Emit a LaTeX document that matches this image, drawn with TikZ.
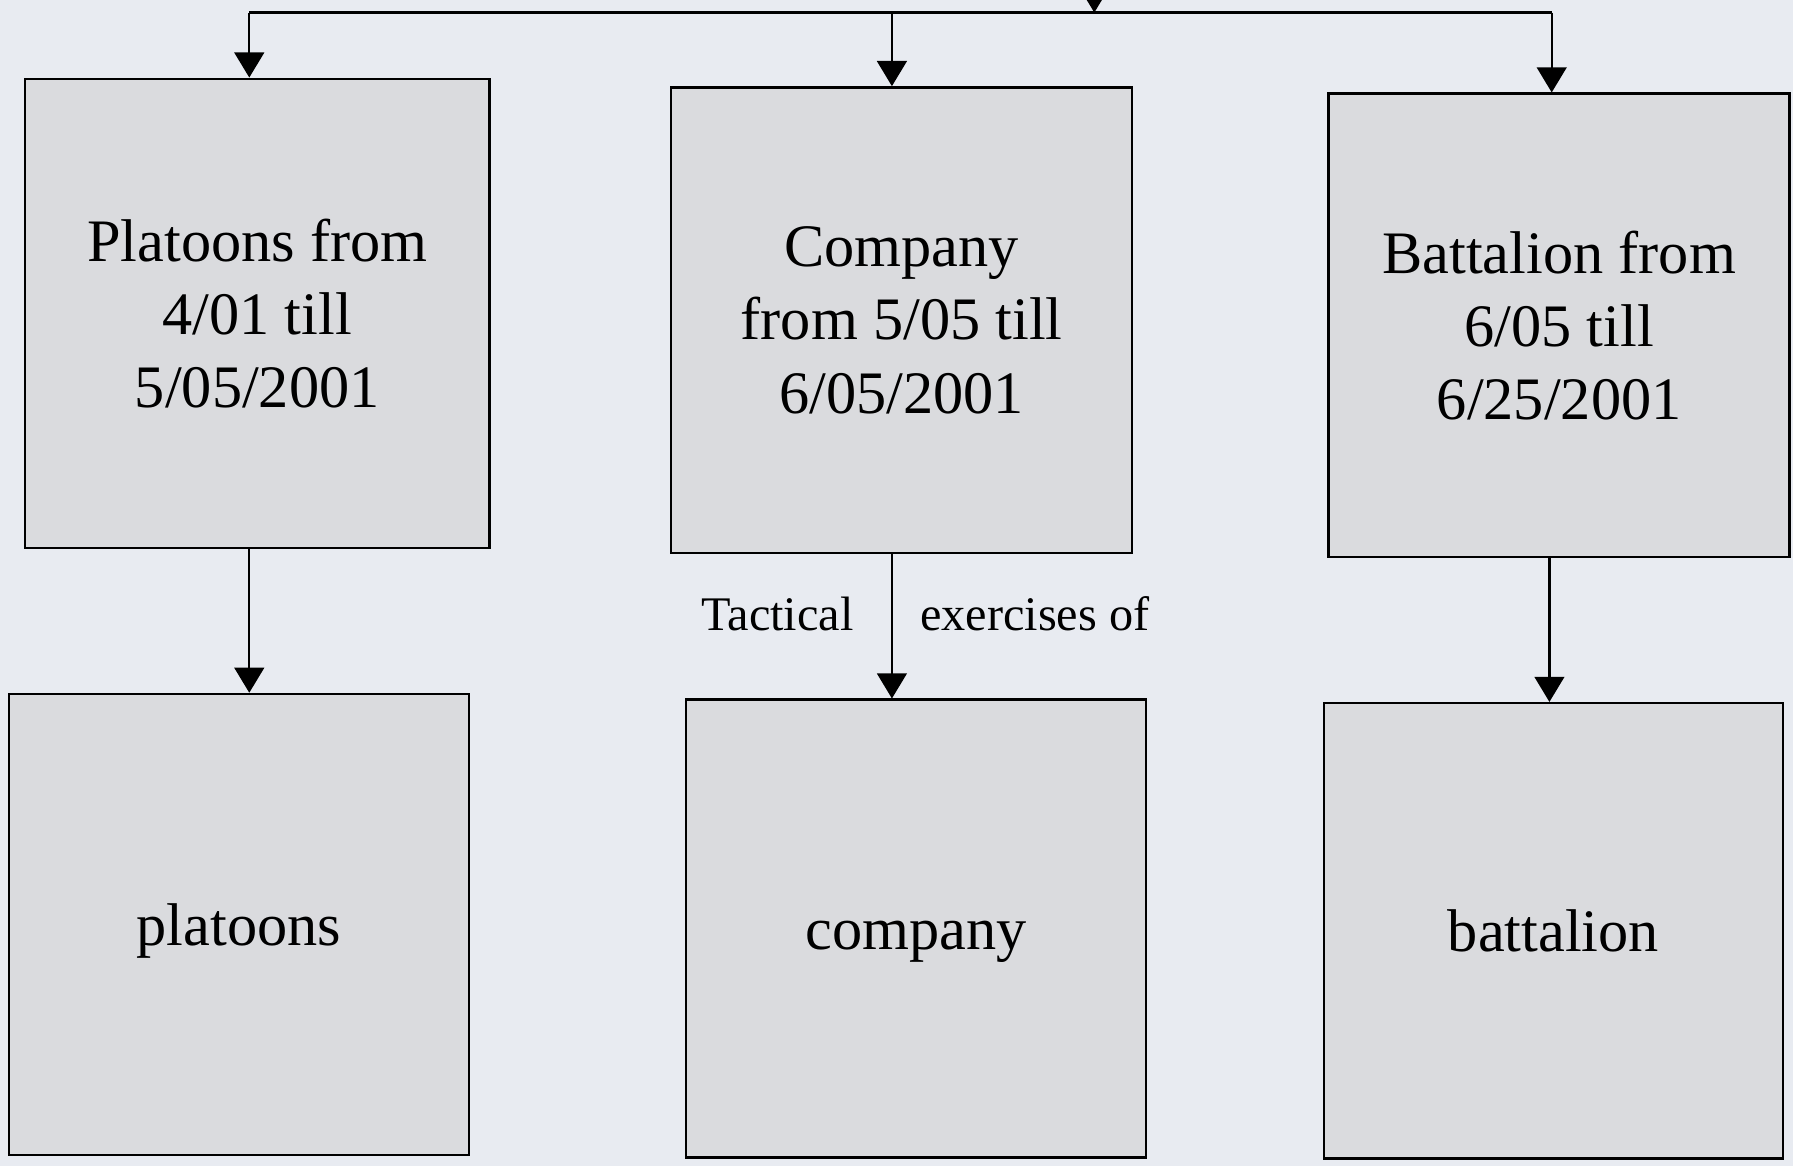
\documentclass[tikz,border=0pt]{standalone}
\usepackage{fontspec}
\setmainfont{Liberation Serif}
\usetikzlibrary{arrows.meta}
\definecolor{bgcol}{RGB}{232,235,241}
\definecolor{boxcol}{RGB}{218,219,222}
\begin{document}
\begin{tikzpicture}[x=0.01cm,y=-0.01cm,
  box/.style={draw=black,line width=0.6pt,fill=boxcol,inner sep=0pt,align=center,
    font=\fontsize{15}{18.2}\selectfont},
  wordbox/.style={box,text height=1.3em,text depth=0.25em},
  conn/.style={line width=0.6pt,draw=black},
  arr/.style={conn,-{Triangle[width=0.26cm,length=0.22cm]}},
  lbl/.style={font=\fontsize{12}{14}\selectfont,inner sep=0pt}]
\fill[bgcol] (0,0) rectangle (1568,1020);
\useasboundingbox (0,0) rectangle (1568,1020);
% top row
\node[box,minimum width=4.06cm,minimum height=4.10cm] (b1) at (225,274) {Platoons from\\4/01 till\\5/05/2001};
\node[box,minimum width=4.03cm,minimum height=4.07cm] (b2) at (788.5,280) {Company\\from 5/05 till\\6/05/2001};
\node[box,minimum width=4.03cm,minimum height=4.05cm] (b3) at (1363.5,284.5) {Battalion from\\6/05 till\\6/25/2001};
% bottom row
\node[wordbox,minimum width=4.02cm,minimum height=4.03cm] (b4) at (209,808.5) {platoons};
\node[wordbox,minimum width=4.02cm,minimum height=4.00cm] (b5) at (801,812) {company};
\node[wordbox,minimum width=4.01cm,minimum height=3.98cm] (b6) at (1358.5,814) {battalion};
% top distribution bar
\coordinate (top) at (957,0);
\coordinate (barL) at (218,11);
\coordinate (barM) at (780,11);
\coordinate (barR) at (1357,11);
\draw[arr] (top) -- (top |- barL);
\draw[conn] (barL) -- (barR);
\draw[arr] (barL) -- (barL |- b1.north);
\draw[arr] (barM) -- (barM |- b2.north);
\draw[arr] (barR) -- (barR |- b3.north);
% vertical arrows
\draw[arr] (barL |- b1.south) -- (barL |- b4.north);
\draw[arr] (barM |- b2.south) -- (barM |- b5.north);
\draw[arr] (1355,0 |- b3.south) -- (1355,0 |- b6.north);
% labels
\node[lbl] (t1) at (680,537) {Tactical};
\node[lbl] (t2) at (905,537) {exercises of};
\end{tikzpicture}
\end{document}
